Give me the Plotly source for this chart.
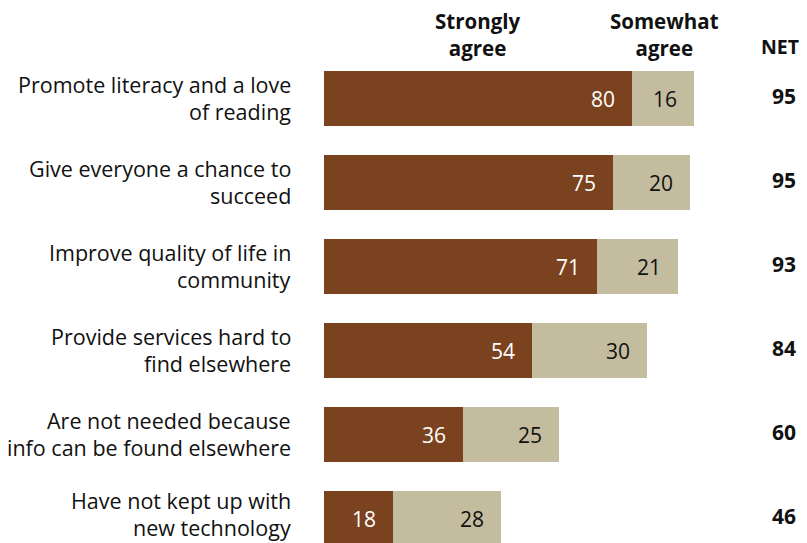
import plotly.graph_objects as go

# Survey items and shares (%)
label_line1 = [
    "Promote literacy and a love",
    "Give everyone a chance to",
    "Improve quality of life in",
    "Provide services hard to",
    "Are not needed because",
    "Have not kept up with",
]
label_line2 = [
    "of reading",
    "succeed",
    "community",
    "find elsewhere",
    "info can be found elsewhere",
    "new technology",
]
strongly_agree = [80, 75, 71, 54, 36, 18]
somewhat_agree = [16, 20, 21, 30, 25, 28]
net_agree = [95, 95, 93, 84, 60, 46]

BROWN = "#7B4220"
TAN = "#C4BC9E"
INK = "#111111"
FONT = "Open Sans"

W, H = 807, 543
LEFT, RIGHT = 324, 98
ROW = 84.0          # pixels between rows
FIRST = 98.5        # pixel centre of first bar
plot_w = W - LEFT - RIGHT

pos = list(range(len(strongly_agree)))
y_top = -FIRST / ROW
y_bottom = y_top + H / ROW

fig = go.Figure()
fig.add_trace(go.Bar(
    y=pos, x=strongly_agree, orientation="h", name="Strongly agree",
    marker=dict(color=BROWN, line=dict(width=0)), width=55 / ROW,
    hoverinfo="skip",
))
fig.add_trace(go.Bar(
    y=pos, x=somewhat_agree, base=strongly_agree, orientation="h",
    name="Somewhat agree",
    marker=dict(color=TAN, line=dict(width=0)), width=55 / ROW,
    hoverinfo="skip",
))

ann = []
last = len(strongly_agree) - 1
for i, (s, m, n) in enumerate(zip(strongly_agree, somewhat_agree, net_agree)):
    ann.append(dict(x=s, y=i, xref="x", yref="y", text=str(s), showarrow=False,
                    xanchor="right", xshift=-15,
                    font=dict(family=FONT, size=21, color="white")))
    ann.append(dict(x=s + m, y=i, xref="x", yref="y", text=str(m), showarrow=False,
                    xanchor="right", xshift=-15,
                    font=dict(family=FONT, size=21, color=INK)))
    ann.append(dict(x=(784 - LEFT) / plot_w, y=i, xref="paper", yref="y",
                    text=f"<b>{n}</b>", showarrow=False, xanchor="center",
                    yshift=3, font=dict(family=FONT, size=21, color=INK)))
    # two-line row label, right aligned; the bottom row is nudged up to stay on the page
    lift = 4 if i == last else 0
    for txt, dy in ((label_line1[i], 14), (label_line2[i], -13)):
        ann.append(dict(x=0, y=i, xref="paper", yref="y", text=txt, showarrow=False,
                        xanchor="right", yanchor="middle", xshift=-31, yshift=dy + lift,
                        font=dict(family=FONT, size=21.5, color=INK)))

# Column headers
headers = [("Strongly", "agree", 478), ("Somewhat", "agree", 664)]
for top, bottom, px in headers:
    ann.append(dict(x=(px - LEFT) / plot_w, y=1 - 34 / H, xref="paper", yref="paper",
                    text=f"<b>{top}</b><br><b>{bottom}</b>", showarrow=False,
                    xanchor="center", yanchor="middle", align="center",
                    font=dict(family=FONT, size=20.5, color=INK)))
ann.append(dict(x=(780 - LEFT) / plot_w, y=1 - 46 / H, xref="paper", yref="paper",
                text="<b>NET</b>", showarrow=False,
                xanchor="center", yanchor="middle",
                font=dict(family=FONT, size=19.5, color=INK)))

fig.update_layout(
    width=W, height=H,
    margin=dict(l=LEFT, r=RIGHT, t=0, b=0, pad=0),
    barmode="stack",
    showlegend=False,
    plot_bgcolor="white", paper_bgcolor="white",
    xaxis=dict(range=[0, 100], visible=False, fixedrange=True),
    yaxis=dict(range=[y_bottom, y_top], visible=False, fixedrange=True),
    annotations=ann,
)

fig.write_html("out.html")
